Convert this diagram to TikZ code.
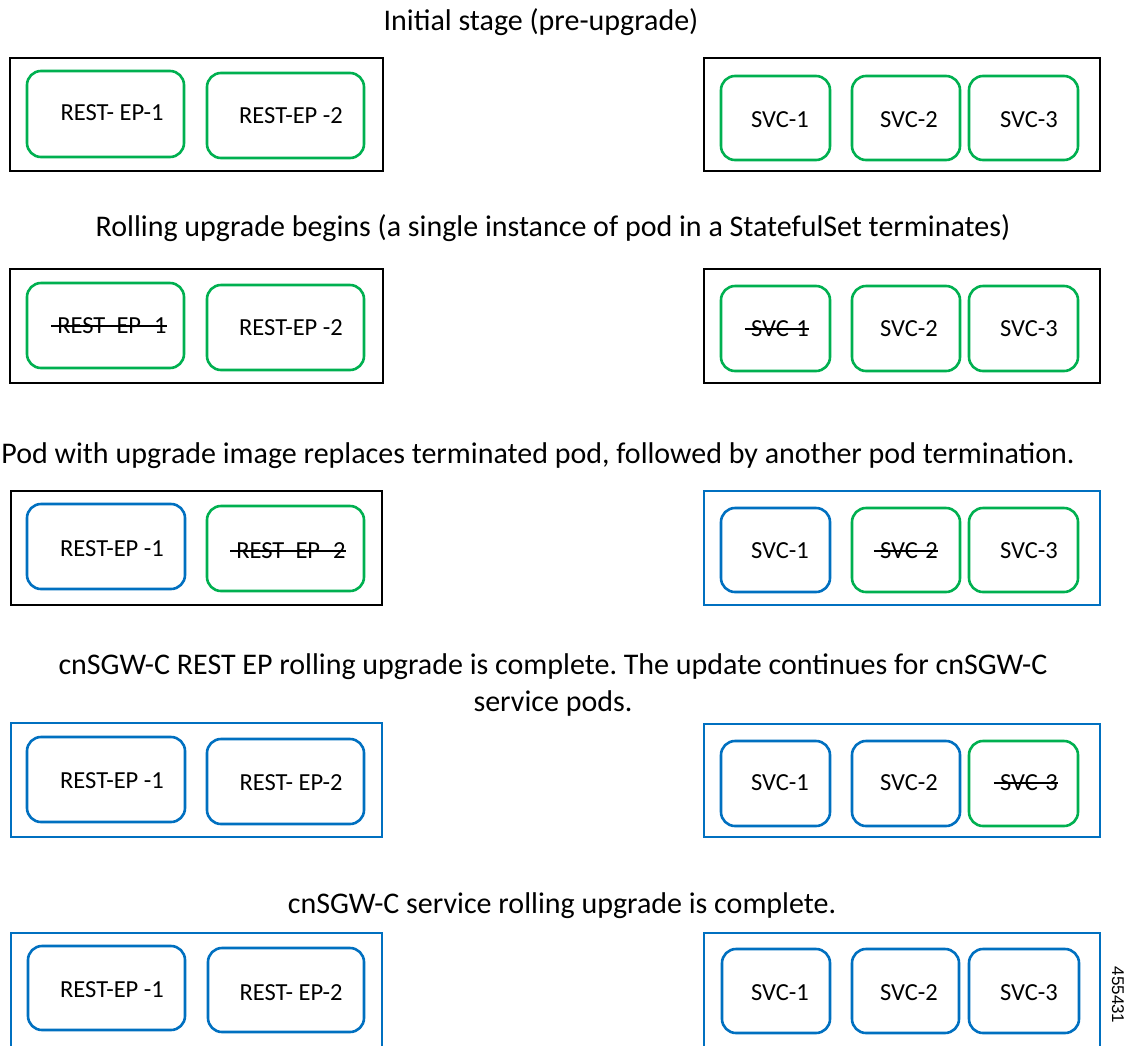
\documentclass[tikz,border=0pt]{standalone}
\usepackage{fontspec}
\setmainfont{Carlito}
\newfontfamily\numfont{Liberation Sans}
\definecolor{podgreen}{HTML}{00B050}
\definecolor{podblue}{HTML}{0070C0}
\frenchspacing
\begin{document}
\begin{tikzpicture}[x=1pt,y=-1pt,
  outerbox/.style={draw=#1, line width=2.6pt},
  pod/.style={draw=#1, line width=2.6pt, rounded corners=14pt},
  lbl/.style={inner sep=0pt, font=\fontsize{24.5}{28}\selectfont},
  ttl/.style={inner sep=0pt, font=\fontsize{30}{37}\selectfont, align=center},
  strike/.style={line width=1.3pt, black}]
\clip (0,0) rectangle (1133,1045);
\fill[white] (0,0) rectangle (1133,1045);

% ---------- Row 1 ----------
\node[ttl] (t1) at (541,22) {Initial stage (pre-upgrade)};
\draw[outerbox=black] (10,58) rectangle (383,171);
\draw[pod=podgreen] (27,71) rectangle (184,157);
\draw[pod=podgreen] (207,73) rectangle (364,158);
\draw[outerbox=black] (704,58) rectangle (1100,171);
\draw[pod=podgreen] (721,76) rectangle (830,160);
\draw[pod=podgreen] (852,76) rectangle (960,160);
\draw[pod=podgreen] (969,76) rectangle (1078,160);
\node[lbl] (a1) at (112,113) {REST- EP-1};
\node[lbl] (a2) at (291,116) {REST-EP -2};
\node[lbl] (a3) at (780,120) {SVC-1};
\node[lbl] (a4) at (909,120) {SVC-2};
\node[lbl] (a5) at (1029,120) {SVC-3};

% ---------- Row 2 ----------
\node[ttl] (t2) at (553,228) {Rolling upgrade begins (a single instance of pod in a StatefulSet terminates)};
\draw[outerbox=black] (10,269) rectangle (383,383);
\draw[pod=podgreen] (27,283) rectangle (184,368);
\draw[pod=podgreen] (207,285) rectangle (364,370);
\draw[outerbox=black] (704,269) rectangle (1100,383);
\draw[pod=podgreen] (721,286) rectangle (830,371);
\draw[pod=podgreen] (852,286) rectangle (960,371);
\draw[pod=podgreen] (969,286) rectangle (1078,371);
\node[lbl] (b1) at (112,326) {REST- EP -1};
\node[lbl] (b2) at (291,328) {REST-EP -2};
\node[lbl] (b3) at (780,329) {SVC-1};
\node[lbl] (b4) at (909,329) {SVC-2};
\node[lbl] (b5) at (1029,329) {SVC-3};
\draw[strike] ([xshift=-6pt]b1.west) -- (b1.east);
\draw[strike] ([xshift=-6pt]b3.west) -- (b3.east);

% ---------- Row 3 ----------
\node[ttl] (t3) at (538,456) {Pod with upgrade image replaces terminated pod, followed by another pod termination.};
\draw[outerbox=black] (11,491) rectangle (382,605);
\draw[pod=podblue] (27,504) rectangle (185,589);
\draw[pod=podgreen] (207,506) rectangle (364,591);
\draw[outerbox=podblue] (704,491) rectangle (1100,605);
\draw[pod=podblue] (721,508) rectangle (830,592);
\draw[pod=podgreen] (852,508) rectangle (960,592);
\draw[pod=podgreen] (969,508) rectangle (1078,592);
\node[lbl] (c1) at (112,549) {REST-EP -1};
\node[lbl] (c2) at (291,551) {REST- EP -2};
\node[lbl] (c3) at (780,551) {SVC-1};
\node[lbl] (c4) at (909,551) {SVC-2};
\node[lbl] (c5) at (1029,551) {SVC-3};
\draw[strike] ([xshift=-6pt]c2.west) -- (c2.east);
\draw[strike] ([xshift=-6pt]c4.west) -- (c4.east);

% ---------- Row 4 ----------
\node[ttl] (t4) at (553,685) {cnSGW-C REST EP rolling upgrade is complete. The update continues for cnSGW-C\\service pods.};
\draw[outerbox=podblue] (11,723) rectangle (382,837);
\draw[pod=podblue] (27,737) rectangle (185,822);
\draw[pod=podblue] (207,739) rectangle (364,824);
\draw[outerbox=podblue] (704,724) rectangle (1100,837);
\draw[pod=podblue] (721,741) rectangle (830,826);
\draw[pod=podblue] (852,741) rectangle (960,826);
\draw[pod=podgreen] (969,741) rectangle (1078,826);
\node[lbl] (d1) at (112,781) {REST-EP -1};
\node[lbl] (d2) at (291,783) {REST- EP-2};
\node[lbl] (d3) at (780,783) {SVC-1};
\node[lbl] (d4) at (909,783) {SVC-2};
\node[lbl] (d5) at (1029,783) {SVC-3};
\draw[strike] ([xshift=-6pt]d5.west) -- (d5.east);

% ---------- Row 5 ----------
\node[ttl] (t5) at (562,906) {cnSGW-C service rolling upgrade is complete.};
\draw[outerbox=podblue] (11,1060) -- (11,933) -- (382,933) -- (382,1060);
\draw[pod=podblue] (28,946) rectangle (185,1030);
\draw[pod=podblue] (208,948) rectangle (364,1032);
\draw[outerbox=podblue] (704,1060) -- (704,933) -- (1100,933) -- (1100,1060);
\draw[pod=podblue] (722,949) rectangle (830,1033);
\draw[pod=podblue] (852,949) rectangle (959,1033);
\draw[pod=podblue] (969,949) rectangle (1079,1033);
\node[lbl] (e1) at (112,990) {REST-EP -1};
\node[lbl] (e2) at (291,993) {REST- EP-2};
\node[lbl] (e3) at (780,993) {SVC-1};
\node[lbl] (e4) at (909,993) {SVC-2};
\node[lbl] (e5) at (1029,993) {SVC-3};

\node[inner sep=0pt, rotate=-90, font=\numfont\fontsize{17}{20}\selectfont] (fig) at (1118,995) {455431};
\end{tikzpicture}
\end{document}
